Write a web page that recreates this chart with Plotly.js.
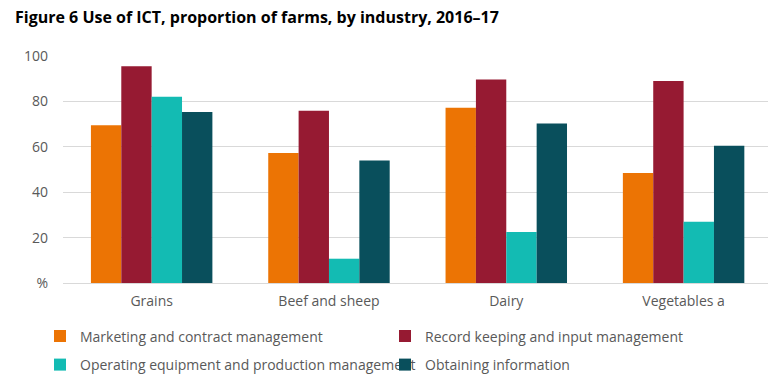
<!DOCTYPE html>
<html>
<head>
<meta charset="utf-8">
<script src="https://cdn.plot.ly/plotly-3.0.1.min.js"></script>
<style>html,body{margin:0;padding:0;background:#fff;}#chart{width:768px;height:384px;}</style>
</head>
<body>
<div id="chart"></div>
<script>
var industries = ["Grains", "Beef and sheep", "Dairy", "Vegetables a"];
var marketing = [69.5, 57.3, 77.2, 48.5];
var recordKeeping = [95.5, 75.9, 89.7, 89.0];
var operatingEquipment = [82.0, 10.7, 22.5, 27.0];
var obtainingInfo = [75.3, 54.0, 70.3, 60.5];
var seriesNames = ["Marketing and contract management", "Record keeping and input management",
  "Operating equipment and production management", "Obtaining information"];
var yTickVals = [0, 20, 40, 60, 80, 100];
var yTickText = ["%", "20", "40", "60", "80", "100"];

var colors = ["#EC7404", "#961A32", "#13BBB3", "#094F5C"];
var values = [marketing, recordKeeping, operatingEquipment, obtainingInfo];
var legendIds = ["legend", "legend", "legend2", "legend2"];
var font = "Open Sans, sans-serif";

var data = values.map(function (v, i) {
  return {
    type: "bar", x: industries, y: v, name: seriesNames[i],
    marker: {color: colors[i], line: {width: 0}},
    legend: legendIds[i], hoverinfo: "y"
  };
});

var legendCommon = {
  orientation: "h", xref: "container", yref: "container",
  xanchor: "left", yanchor: "middle", entrywidth: 300,
  font: {family: font, size: 14, color: "#595959"},
  bgcolor: "rgba(0,0,0,0)", traceorder: "normal"
};

var layout = {
  width: 768, height: 384,
  margin: {l: 63, r: 0, t: 56, b: 101},
  paper_bgcolor: "#fff", plot_bgcolor: "#fff",
  title: {
    text: "<b>Figure 6 Use of ICT, proportion of farms, by industry, 2016–17</b>",
    xref: "container", yref: "container", x: 15/768, xanchor: "left",
    y: 1 - 17/384, yanchor: "middle",
    font: {family: font, size: 16, color: "#000"}
  },
  barmode: "group", bargap: 0.315, bargroupgap: 0,
  xaxis: {
    range: [-0.5, 3.476], showgrid: false, zeroline: false, showline: false,
    ticks: "", ticklabelstandoff: 8,
    tickfont: {family: font, size: 14, color: "#595959"}
  },
  yaxis: {
    range: [0, 100], tickvals: yTickVals, ticktext: yTickText,
    showgrid: true, gridcolor: "#D9D9D9", gridwidth: 1,
    zeroline: true, zerolinecolor: "#D9D9D9", zerolinewidth: 1,
    showline: false, ticks: "", ticklabelstandoff: 14,
    tickfont: {family: font, size: 14, color: "#595959"}
  },
  legend: Object.assign({}, legendCommon, {x: 40/768, y: 1 - 336.5/384}),
  legend2: Object.assign({}, legendCommon, {x: 40/768, y: 1 - 365/384}),
  showlegend: true
};

Plotly.newPlot("chart", data, layout, {displayModeBar: false, staticPlot: true});
</script>
</body>
</html>
